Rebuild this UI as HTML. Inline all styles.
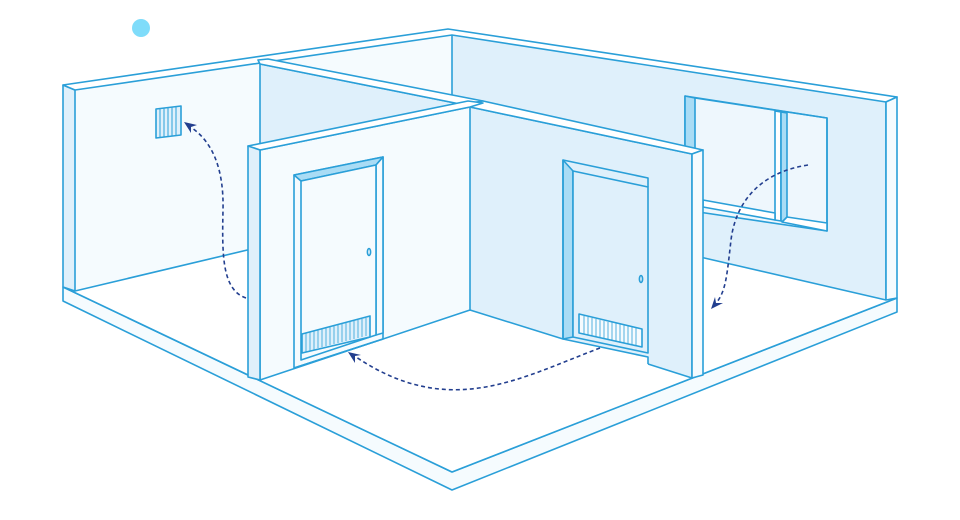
<!DOCTYPE html>
<html><head><meta charset="utf-8"><style>html,body{margin:0;padding:0;background:#fff}svg{display:block}</style></head>
<body>
<svg width="960" height="520" viewBox="0 0 960 520" xmlns="http://www.w3.org/2000/svg">
<g stroke="#2a9fd8" stroke-width="1.6" stroke-linejoin="round" fill="none">
<polygon points="63,287 452,472 897,298 897,312 452,490 63,301" fill="#f5fbfe"/>
<polygon points="63,287 452,472 897,298 886,300 452,200 75,291" fill="#fff" stroke="none"/>
<line x1="63" y1="287" x2="452" y2="472"/>
<line x1="452" y1="472" x2="897" y2="298"/>
<polygon points="75,90 452,35 452,200 75,291" fill="#f5fbfe" stroke="none"/>
<line x1="75" y1="291" x2="260" y2="247"/>
<polygon points="452,35 886,102 886,300 452,200" fill="#dff0fb" stroke="none"/>
<line x1="700" y1="257" x2="886" y2="300"/>
<line x1="452" y1="35" x2="452" y2="103"/>
<polygon points="63,85 75,90 75,291 63,287" fill="#dff0fb"/>
<polygon points="63,85 448,29 897,97 886,102 452,35 75,90" fill="#fff"/>
<line x1="886" y1="102" x2="886" y2="300"/>
<polygon points="886,102 897,97 897,298 886,300" fill="#f5fbfe"/>
<polygon points="685,96 827,118 827,231 685,210" fill="#eef7fd"/>
<polygon points="685,96 695,98 695,210 685,208" fill="#a9dcf5"/>
<polygon points="775,111 781,112 781,221 775,220" fill="#fff"/>
<polygon points="781,112 787,113 787,222 781,221" fill="#a9dcf5"/>
<polyline points="695,98 827,118 827,231"/>
<polygon points="703,200 775,213 775,220 703,207" fill="#fff"/>
<polygon points="787,217 827,223 827,231 782,222" fill="#fff"/>
<polygon points="156,109 181,106 181,135 156,138" fill="#dff0fb"/>
<g stroke-width="1">
<line x1="160" y1="109" x2="160" y2="137"/><line x1="164" y1="108" x2="164" y2="137"/><line x1="168" y1="108" x2="168" y2="136"/><line x1="172" y1="107" x2="172" y2="136"/><line x1="176" y1="107" x2="176" y2="135"/>
</g>
<polygon points="260,64 470,106 470,310 260,250" fill="#dff0fb"/>
<polygon points="258,60 268,59 483,101 470,106 260,64" fill="#fff"/>
<polygon points="470,107 692,154 692,378 648,364 648,357 563,339 470,310" fill="#dff0fb" stroke="none"/>
<polyline points="470,107 692,154 692,378"/>
<line x1="470" y1="310" x2="563" y2="339"/>
<line x1="648" y1="364" x2="692" y2="378"/>
<polygon points="470,103 483,101 703,150 692,154 470,107" fill="#fff"/>
<polygon points="692,154 703,150 703,375 692,378" fill="#f5fbfe"/>
<polygon points="563,160 573,171 573,337 563,339" fill="#a9dcf5"/>
<polygon points="573,171 648,187 648,353 573,337" fill="#dff0fb"/>
<polyline points="563,339 563,160 648,178 648,187"/>
<polyline points="563,339 648,357 648,364"/>
<polygon points="579,314 642,329 642,347 579,333" fill="#f5fbfe"/>
<g stroke-width="0.8">
<line x1="584" y1="316" x2="584" y2="334"/><line x1="588" y1="317" x2="588" y2="335"/><line x1="592" y1="318" x2="592" y2="336"/><line x1="596" y1="319" x2="596" y2="337"/><line x1="600" y1="320" x2="600" y2="338"/><line x1="604" y1="321" x2="604" y2="339"/><line x1="608" y1="322" x2="608" y2="340"/><line x1="612" y1="322" x2="612" y2="341"/><line x1="616" y1="323" x2="616" y2="342"/><line x1="620" y1="324" x2="620" y2="343"/><line x1="624" y1="325" x2="624" y2="343"/><line x1="628" y1="326" x2="628" y2="344"/><line x1="632" y1="327" x2="632" y2="345"/><line x1="636" y1="328" x2="636" y2="346"/>
</g>
<ellipse cx="641" cy="279" rx="1.6" ry="3.5"/>
<polygon points="260,150 470,107 470,310 260,380" fill="#f5fbfe"/>
<polygon points="248,146 468,101 483,103 470,107 260,150" fill="#fff"/>
<polygon points="248,146 260,150 260,380 248,377" fill="#dff0fb"/>
<polygon points="294,175 383,157 383,339 294,368" fill="#f5fbfe"/>
<polygon points="294,175 383,157 376,165 301,181" fill="#a9dcf5"/>
<polygon points="376,165 383,157 383,333 376,335" fill="#f5fbfe"/>
<polygon points="301,181 376,165 376,335 301,360" fill="#f5fbfe"/>
<line x1="294" y1="368" x2="383" y2="339"/>
<polygon points="302,334 370,316 370,337 302,353" fill="#dff0fb"/>
<g stroke-width="0.8">
<line x1="306" y1="333" x2="306" y2="352"/><line x1="310" y1="332" x2="310" y2="351"/><line x1="314" y1="331" x2="314" y2="350"/><line x1="318" y1="330" x2="318" y2="348"/><line x1="322" y1="329" x2="322" y2="347"/><line x1="326" y1="328" x2="326" y2="346"/><line x1="330" y1="327" x2="330" y2="345"/><line x1="334" y1="326" x2="334" y2="344"/><line x1="338" y1="325" x2="338" y2="343"/><line x1="342" y1="324" x2="342" y2="342"/><line x1="346" y1="323" x2="346" y2="341"/><line x1="350" y1="322" x2="350" y2="340"/><line x1="354" y1="321" x2="354" y2="339"/><line x1="358" y1="320" x2="358" y2="338"/><line x1="362" y1="319" x2="362" y2="337"/><line x1="366" y1="318" x2="366" y2="336"/>
</g>
<ellipse cx="369" cy="252" rx="1.6" ry="3.5"/>
</g>
<g stroke="#233f8f" stroke-width="1.6" stroke-dasharray="4,3" fill="none">
<path d="M246,298 C222,290 222,255 223,210 C224,168 212,142 192,128"/>
<path d="M600,348 C520,378 450,420 356,357"/>
<path d="M808,165 C762,172 736,200 731,240 C727,275 726,290 717,302"/>
</g>
<g fill="#233f8f">
<polygon points="184,122 197,125 191,127 191,133"/>
<polygon points="348,352 361,355 355,356 355,363"/>
<polygon points="711,309 715,297 716,303 723,303"/>
</g>
<circle cx="141" cy="28" r="9" fill="#7fdcfa"/>
</svg>
</body></html>
